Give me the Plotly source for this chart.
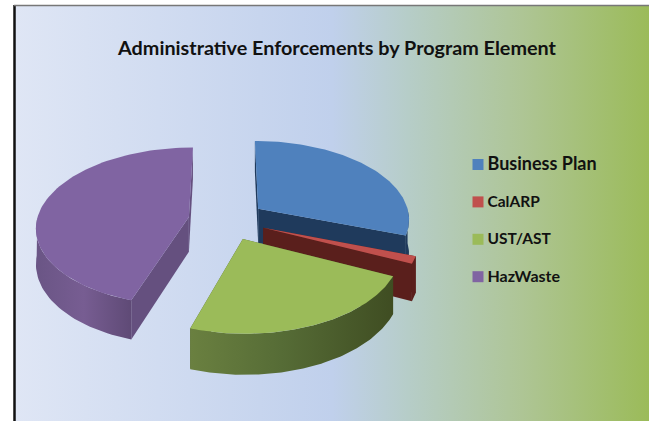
import numpy as np
import plotly.graph_objects as go

# ---- data (share of enforcements, %)
categories = ["Business Plan", "CalARP", "UST/AST", "HazWaste"]
shares = [30.5, 1.5, 23.0, 45.0]
title_text = "Administrative Enforcements by Program Element"

# ---- styling
top_colors = ["#4f81bd", "#c0504d", "#9bbb59", "#8064a2"]
face_colors = ["#1f3a5c", "#5a1f1c", "#4a5e2a", "#65507f"]
wall_scales = [
    [[0, "#1f3a5c"], [1, "#1f3a5c"]],
    [[0, "#5a1f1c"], [1, "#5a1f1c"]],
    [[0, "#6a8040"], [0.45, "#566c36"], [1, "#3f4d22"]],
    [[0, "#6a5585"], [0.5, "#775d92"], [1, "#5f4a76"]],
]
bg_scale = [[0, "#dfe6f5"], [0.5, "#c0d0ec"], [0.62, "#b6cdc8"], [0.8, "#aec595"], [1, "#9bbb59"]]
legend_font_sizes = [18, 15.5, 15.5, 16]

W, H = 649, 421
CX, CY = 227.0, 220.0
RX, RY, PERSP = 152.0, 78.5, 0.12
EXPLODE, DEPTH = 0.255, 35.0


def project(px, py):
    s = 1.0 / (1.0 + PERSP * py)
    return CX + px * RX * s, CY - py * RY * s, DEPTH * s


def poly(xs, ys, color=None, scale=None):
    kw = dict(x=list(xs), y=list(ys), mode="lines", fill="toself",
              line=dict(width=0), hoverinfo="skip", showlegend=False)
    if scale is not None:
        kw["fillgradient"] = dict(type="horizontal", colorscale=scale)
        kw["fillcolor"] = "rgba(0,0,0,0)"
    else:
        kw["fillcolor"] = color
    return go.Scatter(**kw)


fig = go.Figure()

# panel with horizontal gradient, framed at the left and top
fig.add_trace(poly([15, W, W, 15, 15], [6, 6, H, H, 6], scale=bg_scale))

# slice angle ranges, clockwise from twelve o'clock
edges = np.cumsum([0.0] + shares) / sum(shares) * 2 * np.pi
slices = [(i, edges[i], edges[i + 1]) for i in range(len(shares))]

for i, a0, a1 in [slices[0], slices[1], slices[3], slices[2]]:
    mid = (a0 + a1) / 2
    ox, oy = EXPLODE * np.sin(mid), EXPLODE * np.cos(mid)
    ax, ay, ad = project(ox, oy)
    th = np.linspace(a0, a1, 90)
    xs, ys, ds = project(ox + np.sin(th), oy + np.cos(th))

    # flat radial faces
    for k in (0, -1):
        fig.add_trace(poly([ax, xs[k], xs[k], ax, ax],
                           [ay, ys[k], ys[k] + ds[k], ay + ad, ay], color=face_colors[i]))
    # curved outer wall (front part only)
    front = (th >= np.pi / 2) & (th <= 3 * np.pi / 2)
    if front.any():
        fx, fy, fd = xs[front], ys[front], ds[front]
        fig.add_trace(poly(np.r_[fx, fx[::-1], fx[0]],
                           np.r_[fy, (fy + fd)[::-1], fy[0]], scale=wall_scales[i]))
    # top surface
    fig.add_trace(poly(np.r_[ax, xs, ax], np.r_[ay, ys, ay], color=top_colors[i]))

# legend
for n, (name, color) in enumerate(zip(categories, top_colors)):
    row_y = 164.5 + n * 37.4
    fig.add_trace(go.Scatter(
        x=[478], y=[row_y], mode="markers",
        marker=dict(symbol="square", size=11, color=color, line=dict(width=0)),
        hoverinfo="skip", showlegend=False, cliponaxis=False))
    fig.add_trace(go.Scatter(
        x=[487.5], y=[row_y + 1], mode="text", text=[name], textposition="middle right",
        textfont=dict(family="Lato", size=legend_font_sizes[n], color="#111111", weight="bold"),
        hoverinfo="skip", showlegend=False, cliponaxis=False))

fig.update_layout(
    width=W, height=H, margin=dict(l=0, r=0, t=0, b=0),
    paper_bgcolor="white", plot_bgcolor="white",
    title=dict(text="<b>" + title_text + "</b>", x=337 / W, xanchor="center",
               y=1 - 48 / H, yanchor="middle",
               font=dict(family="Lato", size=19.8, color="#111111")),
    xaxis=dict(range=[0, W], visible=False, fixedrange=True),
    yaxis=dict(range=[H, 0], visible=False, fixedrange=True),
    shapes=[
        dict(type="line", x0=14.5, x1=14.5, y0=5, y1=H, line=dict(color="#111111", width=2.5), layer="above"),
        dict(type="line", x0=14, x1=W, y0=5.5, y1=5.5, line=dict(color="#777777", width=1.5), layer="above"),
    ],
)
fig.write_html("out.html", config={"displayModeBar": False},
               post_script="document.body.style.margin='0';document.body.style.overflow='hidden';")
